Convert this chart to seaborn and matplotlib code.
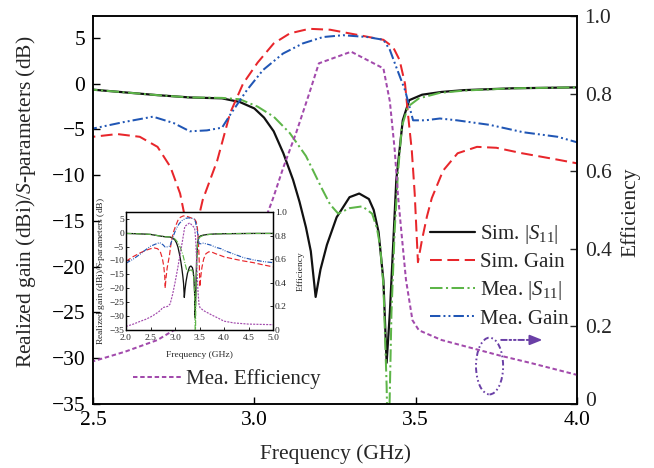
import matplotlib
matplotlib.use("Agg")
import matplotlib.pyplot as plt
import matplotlib.transforms as mtrans
from matplotlib.patches import Ellipse
import seaborn as sns

# ---- measured / simulated data (frequency in GHz) ----
f_sim_s11 = [2.0, 2.2, 2.4, 2.5, 2.6, 2.7, 2.8, 2.9, 2.955, 3.0, 3.03, 3.06, 3.09, 3.12,
             3.14, 3.16, 3.175, 3.19, 3.205, 3.225, 3.255, 3.295, 3.325, 3.355, 3.37,
             3.385, 3.40, 3.41, 3.42, 3.43, 3.44, 3.46, 3.48, 3.52, 3.58, 3.65, 3.8,
             4.0, 4.3, 4.6, 5.0]
sim_s11 = [-0.3, -0.4, -0.55, -0.65, -0.95, -1.25, -1.5, -1.6, -2.0, -2.7, -3.7, -5.2,
           -7.6, -10.5, -12.9, -15.7, -18.3, -23.3, -20.3, -17.6, -14.6, -12.4, -12.0,
           -12.6, -13.8, -16.2, -21.5, -30.5, -25.0, -17.8, -10.5, -4.0, -1.8, -1.2,
           -0.9, -0.7, -0.5, -0.4, -0.35, -0.3, -0.3]

f_mea_s11 = [2.0, 2.2, 2.4, 2.5, 2.6, 2.7, 2.8, 2.9, 2.955, 3.01, 3.06, 3.11, 3.16, 3.21,
             3.235, 3.26, 3.295, 3.335, 3.365, 3.38, 3.39, 3.40, 3.41, 3.415, 3.425,
             3.435, 3.445, 3.457, 3.476, 3.51, 3.575, 3.65, 3.8, 4.0, 4.3, 4.6, 5.0]
mea_s11 = [-0.3, -0.4, -0.55, -0.65, -0.95, -1.25, -1.5, -1.55, -1.7, -2.5, -3.6, -5.4,
           -7.9, -11.5, -13.2, -14.2, -13.6, -13.4, -14.2, -15.8, -17.8, -22.0, -33.0,
           -42.0, -25.0, -16.0, -9.8, -4.7, -2.5, -1.6, -1.0, -0.75, -0.5, -0.4, -0.35,
           -0.3, -0.3]

f_sim_gain = [2.0, 2.15, 2.3, 2.4, 2.5, 2.575, 2.645, 2.70, 2.74, 2.77, 2.79, 2.80, 2.815,
              2.84, 2.885, 2.925, 2.965, 3.01, 3.06, 3.11, 3.17, 3.235, 3.295, 3.355,
              3.40, 3.43, 3.45, 3.467, 3.477, 3.488, 3.497, 3.507, 3.52, 3.535, 3.55,
              3.585, 3.63, 3.69, 3.75, 3.83, 3.94, 4.0, 4.2, 4.4, 4.6, 4.8, 5.0]
sim_gain = [-10.3, -8.6, -7.2, -6.4, -5.8, -5.5, -5.8, -6.9, -9.1, -12.0, -15.5, -20.0,
            -16.5, -12.7, -8.4, -3.2, 0.0, 2.3, 4.4, 5.5, 6.0, 5.9, 5.5, 5.1, 4.8, 4.0,
            2.6, 0.0, -3.6, -7.3, -12.0, -19.5, -17.0, -14.5, -12.5, -9.5, -7.6, -6.9,
            -7.0, -7.6, -8.3, -8.7, -9.5, -10.2, -10.8, -11.6, -12.3]

f_mea_gain = [2.0, 2.15, 2.3, 2.4, 2.5, 2.594, 2.686, 2.75, 2.80, 2.853, 2.90, 2.925,
              2.977, 3.027, 3.089, 3.15, 3.213, 3.275, 3.35, 3.40, 3.42, 3.44, 3.467,
              3.492, 3.53, 3.575, 3.628, 3.73, 3.833, 3.94, 4.0, 4.2, 4.4, 4.6, 4.8, 5.0]
mea_gain = [-11.0, -9.5, -7.6, -6.2, -4.9, -4.2, -3.6, -4.3, -5.2, -5.1, -4.8, -3.4, -0.7,
            1.5, 3.3, 4.4, 5.1, 5.3, 5.1, 4.8, 3.7, 1.8, -0.7, -4.0, -4.0, -3.8, -4.0,
            -4.5, -5.3, -5.8, -6.4, -7.7, -9.0, -9.8, -10.4, -10.8]

f_mea_eff = [2.0, 2.15, 2.3, 2.4, 2.5, 2.6, 2.7, 2.75, 2.85, 2.9, 2.95, 3.0, 3.058, 3.09,
             3.13, 3.17, 3.20, 3.30, 3.40, 3.42, 3.435, 3.445, 3.455, 3.47, 3.49, 3.51,
             3.58, 3.67, 3.76, 3.86, 4.0, 4.2, 4.5, 5.0]
mea_eff = [0.03, 0.05, 0.075, 0.09, 0.11, 0.135, 0.165, 0.19, 0.20, 0.22, 0.30, 0.40,
           0.53, 0.61, 0.70, 0.80, 0.878, 0.908, 0.865, 0.78, 0.655, 0.54, 0.45, 0.32,
           0.216, 0.19, 0.165, 0.145, 0.125, 0.105, 0.075, 0.06, 0.05, 0.045]

# ---- styling ----
sns.set_style("ticks")
plt.rcParams["font.family"] = ["Liberation Serif", "DejaVu Serif"]
plt.rcParams["mathtext.fontset"] = "custom"
plt.rcParams["mathtext.rm"] = "Liberation Serif"
plt.rcParams["mathtext.it"] = "Liberation Serif:italic"
plt.rcParams["lines.scale_dashes"] = False
plt.rcParams["axes.edgecolor"] = "black"

C_BLACK = "#111111"
C_RED = "#e8262b"
C_GREEN = "#5db548"
C_BLUE = "#2056b5"
C_PURPLE = "#a24aac"
C_VIOLET = "#6a3fa6"

LS_RED = (0, (8.5, 4))
LS_GREEN = (0, (9, 2.5, 1.5, 2.5))
LS_BLUE = (0, (7.5, 2.2, 1.4, 2.2, 1.4, 2.2))
LS_PURPLE = (0, (3.2, 2.0))


def scaled(ls, k):
    off, seq = ls
    return (off, tuple(v * k for v in seq))


def draw_series(ax_db, ax_eff, lw, k):
    sns.lineplot(x=f_sim_s11, y=sim_s11, ax=ax_db, color=C_BLACK,
                 linestyle="-", lw=lw * 1.1, estimator=None, sort=False)
    sns.lineplot(x=f_sim_gain, y=sim_gain, ax=ax_db, color=C_RED,
                 linestyle=scaled(LS_RED, k), lw=lw, estimator=None, sort=False)
    sns.lineplot(x=f_mea_s11, y=mea_s11, ax=ax_db, color=C_GREEN,
                 linestyle=scaled(LS_GREEN, k), lw=lw, estimator=None, sort=False)
    sns.lineplot(x=f_mea_gain, y=mea_gain, ax=ax_db, color=C_BLUE,
                 linestyle=scaled(LS_BLUE, k), lw=lw, estimator=None, sort=False)
    sns.lineplot(x=f_mea_eff, y=mea_eff, ax=ax_eff, color=C_PURPLE,
                 linestyle=scaled(LS_PURPLE, k), lw=lw, estimator=None, sort=False)


W, H = 654, 468
fig = plt.figure(figsize=(W / 100, H / 100), dpi=100)

# ---- main axes ----
ax = fig.add_axes([93 / W, 1 - 404 / H, 484 / W, 388 / H])
ax2 = ax.twinx()
draw_series(ax, ax2, 1.45, 1.0)

ax.set_xlim(2.5, 4.0)
ax.set_ylim(-35, 7.4)
ax2.set_ylim(0, 1.0)

ax.set_xticks([2.5, 3.0, 3.5, 4.0])
ax.set_xticklabels(["2.5", "3.0", "3.5", "4.0"])
ax.set_yticks(list(range(-35, 6, 5)))
ax2.set_yticks([0, 0.2, 0.4, 0.6, 0.8, 1.0])
ax2.set_yticklabels(["0", "0.2", "0.4", "0.6", "0.8", "1.0"])

FS = 15.5
ax.tick_params(axis="both", direction="in", length=5, width=1, labelsize=FS, colors="black")
ax.tick_params(axis="y", pad=5.5)
ax.tick_params(axis="x", pad=5)
ax.tick_params(top=False)
ax2.tick_params(axis="y", direction="in", length=5, width=1, labelsize=FS, pad=5.5)
for a in (ax, ax2):
    for s in a.spines.values():
        s.set_linewidth(1.1)
        s.set_color("black")
    a.grid(False)

ax.set_xlabel("Frequency (GHz)", fontsize=FS)
ax.set_ylabel("Realized gain (dBi)/$S$-parameters (dB)", fontsize=FS)
ax2.set_ylabel("Efficiency", fontsize=FS)
ax.xaxis.set_label_coords(0.5, -0.105)
ax.yaxis.set_label_coords(-0.114, 0.52)
ax2.yaxis.set_label_coords(1.089, 0.495)

# legends
h = ax.lines
leg1 = ax2.legend(h[:4], ["Sim. |$S_{11}$|", "Sim. Gain", "Mea. |$S_{11}$|", "Mea. Gain"],
                  loc="upper left", bbox_to_anchor=(430 / W, 1 - 223 / H),
                  bbox_transform=fig.transFigure, frameon=False, fontsize=15,
                  handlelength=2.15, handletextpad=0.25, labelspacing=0.33,
                  borderpad=0, borderaxespad=0)
ax2.add_artist(leg1)
ax2.legend([ax2.lines[0]], ["Mea. Efficiency"], loc="upper left",
           bbox_to_anchor=(133 / W, 1 - 369 / H), bbox_transform=fig.transFigure,
           frameon=False, fontsize=15, handlelength=2.4, handletextpad=0.15,
           borderpad=0, borderaxespad=0)

# marker showing the efficiency curve belongs to the right axis
ax.add_patch(Ellipse((3.729, -30.85), 0.084, 6.2, fill=False, edgecolor=C_VIOLET,
                     lw=1.4, ls=(0, (4, 2, 1.2, 2, 1.2, 2)), zorder=4))
ax.annotate("", xy=(3.87, -28.0), xytext=(3.765, -28.0),
            arrowprops=dict(arrowstyle="-", color=C_VIOLET, lw=1.4,
                            ls=(0, (4, 2, 1.2, 2, 1.2, 2)), shrinkA=0, shrinkB=0))
ax.annotate("", xy=(3.893, -28.0), xytext=(3.86, -28.0),
            arrowprops=dict(arrowstyle="-|>,head_length=0.75,head_width=0.3",
                            color=C_VIOLET, lw=1.4, shrinkA=0, shrinkB=0))

# ---- inset with the full band ----
ins = fig.add_axes([126 / W, 1 - 330 / H, 147 / W, 118 / H])
ins.set_zorder(5)
ins.patch.set_facecolor("white")
ins2 = ins.twinx()
ins2.set_zorder(6)
ins2.patch.set_visible(False)
draw_series(ins, ins2, 0.85, 0.45)

ins.set_xlim(2.0, 5.0)
ins.set_ylim(-35, 7.4)
ins2.set_ylim(0, 1.0)
ins.set_xticks([2.0, 2.5, 3.0, 3.5, 4.0, 4.5, 5.0])
ins.set_xticklabels(["2.0", "2.5", "3.0", "3.5", "4.0", "4.5", "5.0"])
ins.set_yticks(list(range(-35, 6, 5)))
ins2.set_yticks([0, 0.2, 0.4, 0.6, 0.8, 1.0])
ins2.set_yticklabels(["0", "0.2", "0.4", "0.6", "0.8", "1.0"])
FI = 6.8
ins.tick_params(axis="both", direction="in", length=2.2, width=0.7, labelsize=FI, pad=1.5)
ins.tick_params(axis="x", pad=3)
ins2.tick_params(axis="y", direction="in", length=2.2, width=0.7, labelsize=FI, pad=1.5)
for a in (ins, ins2):
    for s in a.spines.values():
        s.set_linewidth(0.9)
        s.set_color("black")
    a.grid(False)
ins.set_xlabel("Frequency (GHz)", fontsize=FI)
ins.set_ylabel("Realized gain (dBi)/$S$-parameters (dB)", fontsize=FI)
ins2.set_ylabel("Efficiency", fontsize=FI)
ins.xaxis.set_label_coords(0.5, -0.175)
ins.yaxis.set_label_coords(-0.13, 0.5)
ins2.yaxis.set_label_coords(1.16, 0.5)

# lift the right-hand "0" slightly so it clears the "4.0" below it
zero_lbl = ax2.yaxis.get_major_ticks()[0].label2
zero_lbl.set_transform(zero_lbl.get_transform()
                       + mtrans.ScaledTranslation(0, 0.05, fig.dpi_scale_trans))

fig.savefig("out.png", dpi=100, facecolor="white")
